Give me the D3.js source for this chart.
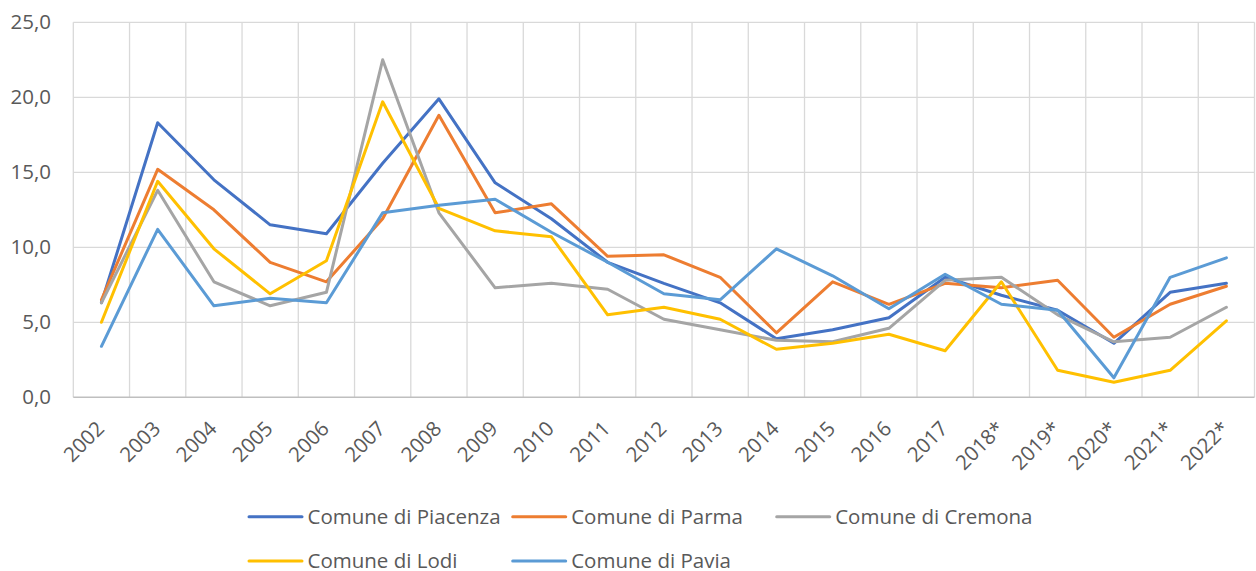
<!DOCTYPE html>
<html><head><meta charset="utf-8">
<script src="https://cdn.jsdelivr.net/npm/d3@7"></script>
<style>body{margin:0;background:#fff;}svg{display:block;}</style>
</head><body>
<svg id="chart" width="1256" height="571"></svg>
<script>
const years = ["2002","2003","2004","2005","2006","2007","2008","2009","2010","2011","2012","2013","2014","2015","2016","2017","2018*","2019*","2020*","2021*","2022*"];
const seriesNames = ["Comune di Piacenza","Comune di Parma","Comune di Cremona","Comune di Lodi","Comune di Pavia"];
const piacenza = [6.3,18.3,14.5,11.5,10.9,15.6,19.9,14.3,11.9,9.0,7.6,6.3,3.9,4.5,5.3,8.0,6.8,5.8,3.6,7.0,7.6];
const parma    = [6.5,15.2,12.5,9.0,7.7,11.9,18.8,12.3,12.9,9.4,9.5,8.0,4.3,7.7,6.2,7.6,7.3,7.8,4.0,6.2,7.4];
const cremona  = [6.3,13.8,7.7,6.1,7.0,22.5,12.3,7.3,7.6,7.2,5.2,4.5,3.8,3.7,4.6,7.8,8.0,5.5,3.7,4.0,6.0];
const lodi     = [5.0,14.4,9.9,6.9,9.1,19.7,12.6,11.1,10.7,5.5,6.0,5.2,3.2,3.6,4.2,3.1,7.7,1.8,1.0,1.8,5.1];
const pavia    = [3.4,11.2,6.1,6.6,6.3,12.3,12.8,13.2,11.0,9.0,6.9,6.5,9.9,8.1,5.9,8.2,6.2,5.8,1.3,8.0,9.3];
const yTicks = [0,5,10,15,20,25];
const colors = ["#4472C4","#ED7D31","#A5A5A5","#FFC000","#5B9BD5"];
const allSeries = [piacenza, parma, cremona, lodi, pavia];

const svg = d3.select("#chart");
const font = "'Open Sans', 'Liberation Sans', sans-serif";
const fs = 20.5;
const pLeft = 73.3, pRight = 1254.5, pTop = 22.3, pBottom = 397.3;

const x = d3.scaleBand().domain(years).range([pLeft, pRight]).padding(0);
const y = d3.scaleLinear().domain([0, 25]).range([pBottom, pTop]);

// horizontal gridlines
svg.append("g").selectAll("line").data(yTicks.filter(d => d > 0)).join("line")
  .attr("x1", pLeft).attr("x2", pRight)
  .attr("y1", d => y(d)).attr("y2", d => y(d))
  .attr("stroke", "#D9D9D9").attr("stroke-width", 1.3);
// vertical gridlines
const vb = years.map(d => x(d)).concat([pRight]);
svg.append("g").selectAll("line").data(vb).join("line")
  .attr("x1", d => d).attr("x2", d => d)
  .attr("y1", pTop).attr("y2", pBottom)
  .attr("stroke", "#D9D9D9").attr("stroke-width", 1.3);
// bottom axis line
svg.append("line").attr("x1", pLeft).attr("x2", pRight).attr("y1", pBottom).attr("y2", pBottom)
  .attr("stroke", "#BFBFBF").attr("stroke-width", 1.5);

// y axis labels
svg.append("g").selectAll("text").data(yTicks).join("text")
  .attr("x", 51).attr("y", d => y(d)).attr("dy", "0.35em")
  .attr("text-anchor", "end").attr("font-family", font).attr("font-size", fs)
  .attr("fill", "#595959").text(d => d3.format(".1f")(d).replace(".", ","));

// x axis labels
svg.append("g").selectAll("text").data(years).join("text")
  .attr("transform", d => `translate(${x(d) + x.bandwidth()/2 + 4},${430}) rotate(-45)`)
  .attr("text-anchor", "end").attr("font-family", font).attr("font-size", fs)
  .attr("fill", "#595959").text(d => d);

// lines
const line = d3.line().x((d, i) => x(years[i]) + x.bandwidth()/2).y(d => y(d));
allSeries.forEach((s, k) => {
  svg.append("path").datum(s).attr("d", line)
    .attr("fill", "none").attr("stroke", colors[k]).attr("stroke-width", 3)
    .attr("stroke-linejoin", "round").attr("stroke-linecap", "round");
});

// legend
const legendPos = [[249,516.7],[512.7,516.7],[776.7,516.7],[249,561],[512.7,561]];
seriesNames.forEach((n, k) => {
  const [lx, ly] = legendPos[k];
  svg.append("line").attr("x1", lx).attr("x2", lx + 53).attr("y1", ly).attr("y2", ly)
    .attr("stroke", colors[k]).attr("stroke-width", 3).attr("stroke-linecap", "round");
  svg.append("text").attr("x", lx + 58.5).attr("y", ly).attr("dy", "0.35em")
    .attr("font-family", font).attr("font-size", fs).attr("fill", "#595959").text(n);
});
</script>
</body></html>
